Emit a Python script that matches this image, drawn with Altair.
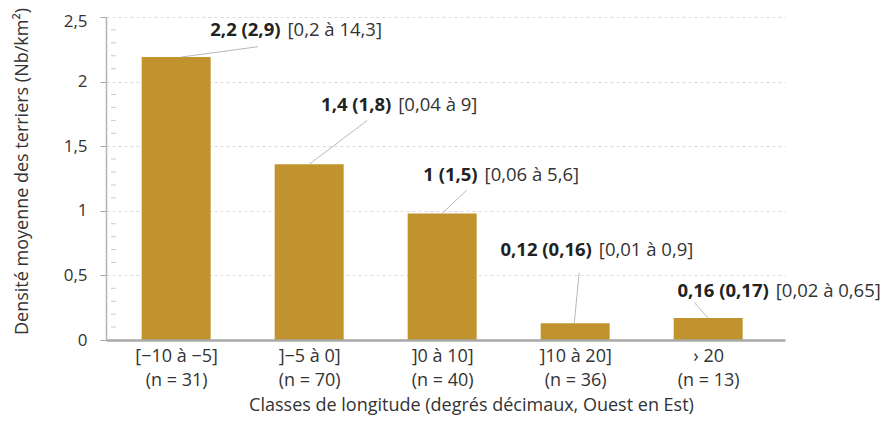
import altair as alt
import pandas as pd

# ---- data ----
categories = ["[−10 à −5]", "]−5 à 0]", "]0 à 10]", "]10 à 20]", "› 20"]
sample_sizes = [31, 70, 40, 36, 13]
mean_density = [2.19, 1.36, 0.98, 0.13, 0.17]
label_bold = ["2,2 (2,9)", "1,4 (1,8)", "1 (1,5)", "0,12 (0,16)", "0,16 (0,17)"]
label_range = ["[0,2 à 14,3]", "[0,04 à 9]", "[0,06 à 5,6]", "[0,01 à 0,9]", "[0,02 à 0,65]"]
y_ticks = [0, 0.5, 1, 1.5, 2, 2.5]
minor_ticks = [round(i / 10, 1) for i in range(1, 25) if i % 5 != 0]

# ---- annotation layout (offsets in category units, heights in data units) ----
label_dx = [0.807, 0.64, 0.289, 0.148, 0.478]
label_y = [2.40, 1.82, 1.28, 0.70, 0.38]
leader_start_dx = [0.037, 0.0, 0.0, -0.007, 0.0]
leader_end_dx = [0.615, 0.437, 0.185, 0.030, -0.104]
leader_end_y = [2.27, 1.70, 1.16, 0.52, 0.29]

FONT = "Open Sans"
BAR = "#c1932f"
TXT = "#333333"
AX = "#a8a8a8"
XMIN, XMAX = -0.49, 4.54
XTITLE = "Classes de longitude (degrés décimaux, Ouest en Est)"
YTITLE = "Densité moyenne des terriers (Nb/km²)"

idx = list(range(len(categories)))
df = pd.DataFrame({
    "idx": idx,
    "value": mean_density,
    "bold": label_bold,
    "range": label_range,
    "lx": [i + d for i, d in zip(idx, label_dx)],
    "ly": label_y,
    "sx": [i + d for i, d in zip(idx, leader_start_dx)],
    "ex": [i + d for i, d in zip(idx, leader_end_dx)],
    "ey": leader_end_y,
})
minor_df = pd.DataFrame({"t": minor_ticks})

xs = alt.Scale(domain=[XMIN, XMAX], nice=False, zero=False)
ys = alt.Scale(domain=[0, 2.5], nice=False, zero=True)

label_js = "[" + ",".join(
    "['%s','(n = %d)']" % (c, n) for c, n in zip(categories, sample_sizes)
) + "][round(datum.value)]"

x_axis = alt.Axis(
    values=idx, labelExpr=label_js, grid=False, ticks=False,
    domainColor=AX, domainWidth=2.5, labelFont=FONT, labelFontSize=18,
    labelColor=TXT, labelLineHeight=24, labelPadding=7, labelBaseline="top",
    labelFlush=False, labelOverlap=False, labelBound=False,
    titleFont=FONT, titleFontSize=18, titleFontWeight="normal", titleColor=TXT,
    titleX=365, titleY=65, titleBaseline="middle", titleAlign="center", zindex=1,
)
y_axis = alt.Axis(
    values=y_ticks, labelExpr="replace(format(datum.value, '~g'), '.', ',')",
    labelOffset={"condition": {"test": "datum.value == 2.5", "value": 4}, "value": 0},
    tickSize=6, tickColor=AX, domainColor="#b4b4b4", domainWidth=1.5,
    labelPadding=13, labelFont=FONT, labelFontSize=17, labelColor=TXT,
    grid=True, gridDash=[3, 3], gridColor="#dadada",
    titleFont=FONT, titleFontSize=18, titleFontWeight="normal", titleColor=TXT,
    titleX=-84, titleY=154, titleAngle=270, titleBaseline="middle", titleAlign="center",
    zindex=0,
)

base = alt.Chart(df)

bars = base.mark_bar(size=69, color=BAR).encode(
    x=alt.X("idx:Q", scale=xs, axis=x_axis, title=XTITLE),
    y=alt.Y("value:Q", scale=ys, axis=y_axis, title=YTITLE),
)

minor = alt.Chart(minor_df).mark_rule(color="#c8c8c8", strokeWidth=1).encode(
    x=alt.datum(XMIN, scale=xs),
    x2=alt.datum(XMIN + 0.035),
    y=alt.Y("t:Q", scale=ys, title=YTITLE),
)

leaders = base.mark_rule(color="#b8b8b8", strokeWidth=1).encode(
    x=alt.X("sx:Q", scale=xs, title=XTITLE),
    y=alt.Y("value:Q", scale=ys, title=YTITLE),
    x2="ex:Q",
    y2="ey:Q",
)

bold_txt = base.mark_text(
    align="right", baseline="middle", dx=-3, font=FONT, fontSize=18.5,
    fontWeight="bold", color="#222222",
).encode(
    x=alt.X("lx:Q", scale=xs, title=XTITLE),
    y=alt.Y("ly:Q", scale=ys, title=YTITLE),
    text="bold:N",
)

range_txt = base.mark_text(
    align="left", baseline="middle", dx=4, font=FONT, fontSize=18.5,
    fontWeight="normal", color=TXT,
).encode(
    x=alt.X("lx:Q", scale=xs, title=XTITLE),
    y=alt.Y("ly:Q", scale=ys, title=YTITLE),
    text="range:N",
)

chart = alt.layer(bars, minor, leaders, bold_txt, range_txt).properties(
    width=679,
    height=323,
    padding={"left": 98, "top": 9, "right": 100, "bottom": 77},
    autosize=alt.AutoSizeParams(type="none"),
).configure_view(stroke=None)

chart.save("out.html", embed_options={"renderer": "svg", "actions": False})
